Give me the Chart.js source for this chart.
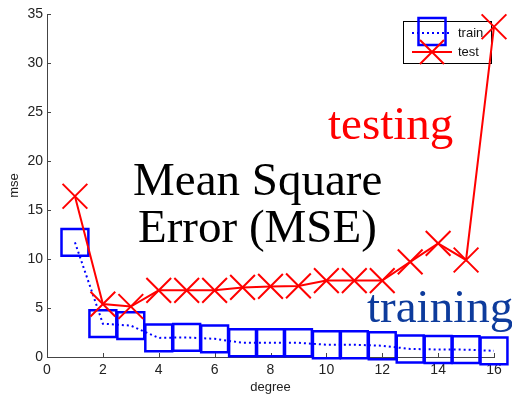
<!DOCTYPE html>
<html>
<head>
<meta charset="utf-8">
<script src="https://cdn.jsdelivr.net/npm/chart.js@4/dist/chart.umd.min.js"></script>
<style>
    html, body { margin: 0; padding: 0; background: #fff; }
    #wrap { width: 512px; height: 395px; }
</style>
</head>
<body>
<div id="wrap"><canvas id="mseChart" width="512" height="395"></canvas></div>
<script>
(function () {
    "use strict";

    // polynomial degree vs. mean square error
    var degrees = [1, 2, 3, 4, 5, 6, 7, 8, 9, 10, 11, 12, 13, 14, 15, 16];
    var trainMse = [11.7, 3.4, 3.2, 1.95, 2.0, 1.85, 1.45, 1.45, 1.45, 1.25, 1.25, 1.15, 0.82, 0.77, 0.75, 0.63];
    var testMse = [16.4, 5.4, 5.15, 6.8, 6.8, 6.8, 7.1, 7.2, 7.25, 7.8, 7.8, 7.8, 9.7, 11.6, 9.9, 33.7];
    var xTicks = [0, 2, 4, 6, 8, 10, 12, 14, 16];
    var yTicks = [0, 5, 10, 15, 20, 25, 30, 35];

    var BLUE = '#0000ff';
    var RED = '#ff0000';
    var AXIS = '#444444';
    var SANS = '"Liberation Sans", Arial, sans-serif';
    var SERIF = '"Liberation Serif", "Times New Roman", serif';

    function toPoints(xs, ys) {
        return xs.map(function (x, i) { return { x: x, y: ys[i] }; });
    }

    function fixTicks(list) {
        return function (scale) {
            scale.ticks = list.map(function (v) { return { value: v }; });
        };
    }

    // labels may hang past the plot box, so drop the extra room chart.js reserves for them
    function noOverhang(scale) {
        scale.paddingTop = 0;
        scale.paddingBottom = 0;
        scale.paddingLeft = 0;
        scale.paddingRight = 0;
    }

    // matlab style ticks pointing into the plot
    var innerTicks = {
        id: 'innerTicks',
        beforeDatasetsDraw: function (chart) {
            var ctx = chart.ctx;
            var area = chart.chartArea;
            var xs = chart.scales.x;
            var ys = chart.scales.y;
            ctx.save();
            ctx.strokeStyle = AXIS;
            ctx.lineWidth = 1;
            ctx.beginPath();
            xTicks.forEach(function (v) {
                var px = Math.round(xs.getPixelForValue(v)) + 0.5;
                ctx.moveTo(px, area.bottom);
                ctx.lineTo(px, area.bottom - 4);
            });
            yTicks.forEach(function (v) {
                var py = Math.round(ys.getPixelForValue(v)) + 0.5;
                ctx.moveTo(area.left, py);
                ctx.lineTo(area.left + 4, py);
            });
            ctx.stroke();
            ctx.restore();
        }
    };

    function drawSquare(ctx, cx, cy, half) {
        ctx.beginPath();
        ctx.rect(cx - half, cy - half, half * 2, half * 2);
        ctx.stroke();
    }

    function drawCross(ctx, cx, cy, half) {
        ctx.beginPath();
        ctx.moveTo(cx - half, cy - half);
        ctx.lineTo(cx + half, cy + half);
        ctx.moveTo(cx - half, cy + half);
        ctx.lineTo(cx + half, cy - half);
        ctx.stroke();
    }

    var boxLegend = {
        id: 'boxLegend',
        beforeDatasetsDraw: function (chart) {
            var ctx = chart.ctx;
            var x0 = 403, y0 = 21, w = 88, h = 42;
            ctx.save();
            ctx.fillStyle = '#fff';
            ctx.fillRect(x0, y0, w, h);
            ctx.strokeStyle = '#000';
            ctx.lineWidth = 1;
            ctx.strokeRect(x0 + 0.5, y0 + 0.5, w, h);

            // train: dotted line + square
            ctx.strokeStyle = BLUE;
            ctx.lineWidth = 2;
            ctx.setLineDash([2, 3]);
            ctx.beginPath();
            ctx.moveTo(412, 33);
            ctx.lineTo(452, 33);
            ctx.stroke();
            ctx.setLineDash([]);
            ctx.lineWidth = 2.5;
            drawSquare(ctx, 432, 31.5, 13.5);

            // test: solid line + cross
            ctx.strokeStyle = RED;
            ctx.lineWidth = 2;
            ctx.beginPath();
            ctx.moveTo(412, 52);
            ctx.lineTo(452, 52);
            ctx.stroke();
            drawCross(ctx, 432, 52, 12);

            ctx.fillStyle = '#111';
            ctx.font = '13px ' + SANS;
            ctx.textAlign = 'left';
            ctx.textBaseline = 'middle';
            ctx.fillText('train', 458, 33);
            ctx.fillText('test', 458, 52);
            ctx.restore();
        }
    };

    var bigLabels = {
        id: 'bigLabels',
        afterDatasetsDraw: function (chart) {
            var ctx = chart.ctx;
            ctx.save();
            ctx.font = '47px ' + SERIF;
            ctx.textAlign = 'left';
            ctx.textBaseline = 'alphabetic';
            ctx.fillStyle = '#000';
            ctx.fillText('Mean Square', 133, 195);
            ctx.fillText('Error (MSE)', 138, 242);
            ctx.fillStyle = RED;
            ctx.fillText('testing', 328, 139);
            ctx.fillStyle = '#0d3b9c';
            ctx.fillText('training', 367, 322);
            ctx.restore();
        }
    };

    var ctx = document.getElementById('mseChart').getContext('2d');
    new Chart(ctx, {
        type: 'line',
        data: {
            datasets: [
                {
                    label: 'train',
                    data: toPoints(degrees, trainMse),
                    order: 1,
                    clip: false,
                    borderColor: BLUE,
                    borderWidth: 2,
                    borderDash: [2, 3],
                    tension: 0,
                    fill: false,
                    pointStyle: 'rect',
                    pointRadius: 19,
                    pointHoverRadius: 19,
                    pointBorderColor: BLUE,
                    pointBorderWidth: 2.5,
                    pointBackgroundColor: 'rgba(0,0,0,0)'
                },
                {
                    label: 'test',
                    data: toPoints(degrees, testMse),
                    order: 0,
                    clip: false,
                    borderColor: RED,
                    borderWidth: 2,
                    tension: 0,
                    fill: false,
                    pointStyle: 'crossRot',
                    pointRadius: 17.5,
                    pointHoverRadius: 17.5,
                    pointBorderColor: RED,
                    pointBorderWidth: 2,
                    pointBackgroundColor: RED
                }
            ]
        },
        options: {
            responsive: false,
            animation: false,
            events: [],
            layout: {
                autoPadding: false,
                padding: { top: 14, right: 18, left: 0, bottom: 0 }
            },
            plugins: {
                legend: { display: false },
                tooltip: { enabled: false }
            },
            scales: {
                x: {
                    type: 'linear',
                    min: 0,
                    max: 16,
                    afterBuildTicks: fixTicks(xTicks),
                    afterFit: function (scale) {
                        scale.height = 38;
                        noOverhang(scale);
                    },
                    grid: { display: false, drawTicks: false },
                    border: { display: true, color: AXIS, width: 1 },
                    ticks: {
                        padding: 5,
                        color: '#222',
                        font: { family: SANS, size: 14 },
                        maxRotation: 0
                    },
                    title: {
                        display: true,
                        text: 'degree',
                        color: '#222',
                        font: { family: SANS, size: 13 },
                        padding: { top: 0, bottom: 0 }
                    }
                },
                y: {
                    type: 'linear',
                    min: 0,
                    max: 35,
                    afterBuildTicks: fixTicks(yTicks),
                    afterFit: function (scale) {
                        scale.width = 47;
                        noOverhang(scale);
                    },
                    grid: { display: false, drawTicks: false },
                    border: { display: true, color: AXIS, width: 1 },
                    ticks: {
                        padding: 4,
                        color: '#222',
                        font: { family: SANS, size: 14 }
                    },
                    title: {
                        display: true,
                        text: 'mse',
                        color: '#222',
                        font: { family: SANS, size: 13 },
                        padding: { top: 7, bottom: 0 }
                    }
                }
            }
        },
        plugins: [innerTicks, boxLegend, bigLabels]
    });
}());
</script>
</body>
</html>
